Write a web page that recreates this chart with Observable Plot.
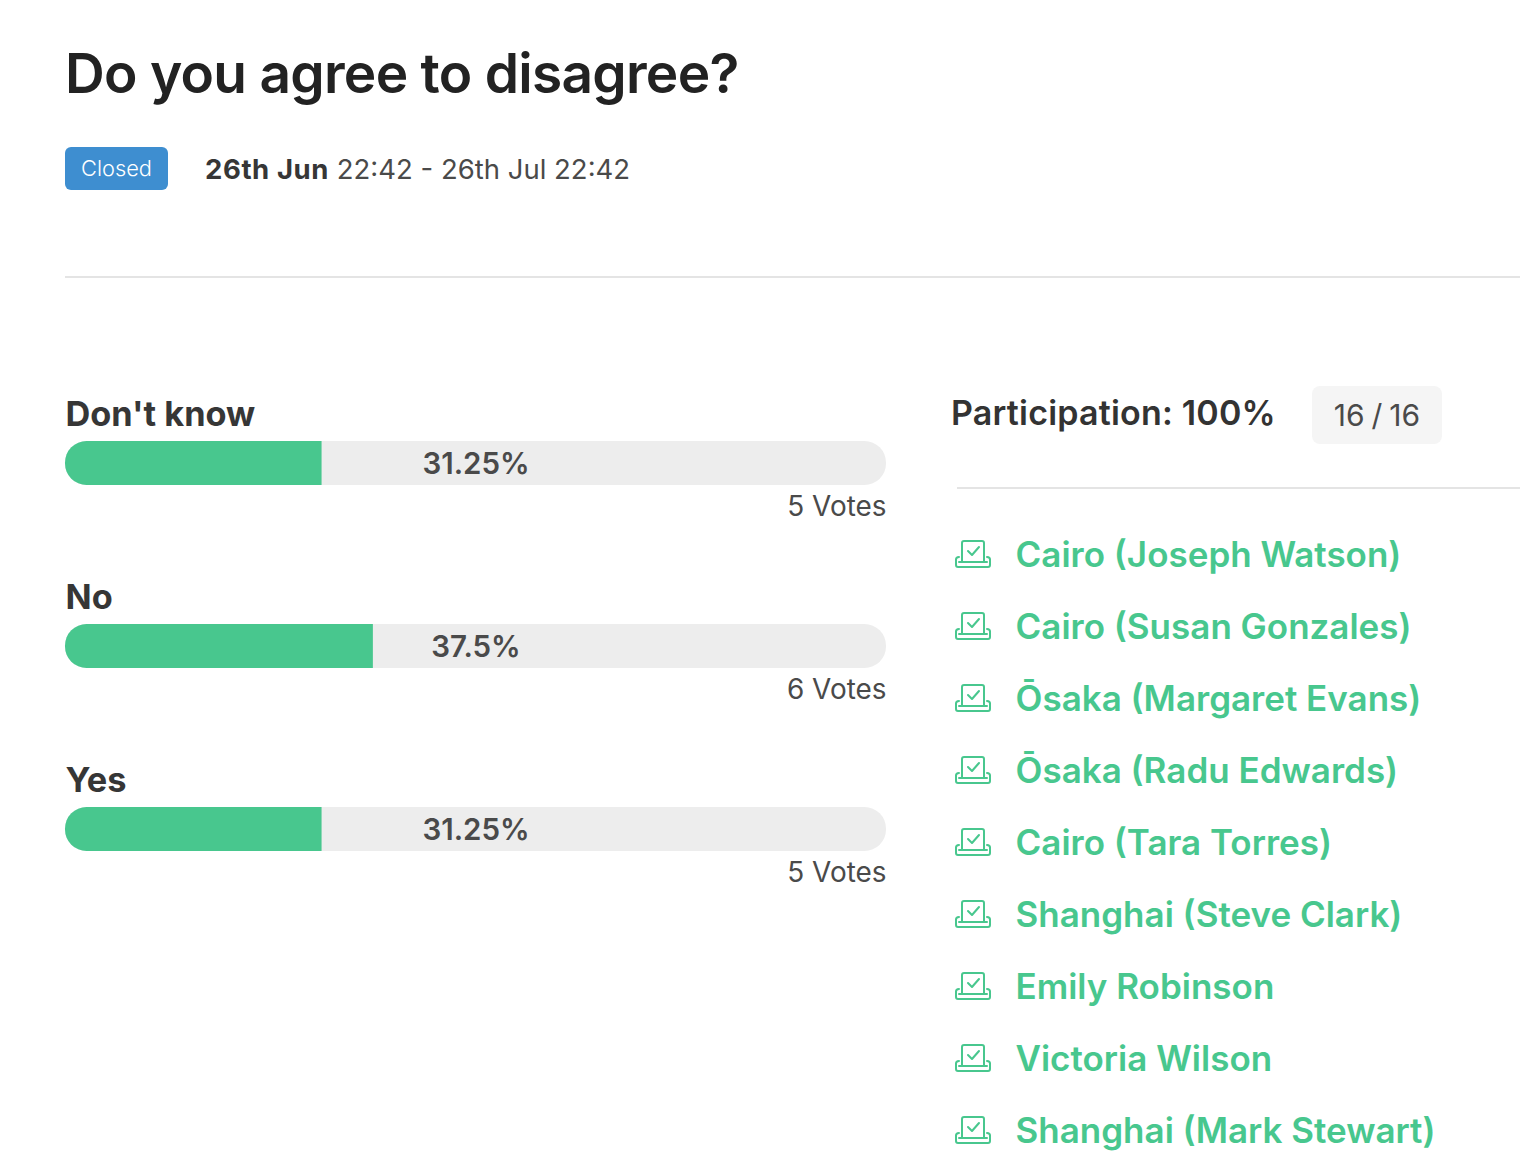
<!DOCTYPE html>
<html><head><meta charset="utf-8">
<script src="https://cdn.jsdelivr.net/npm/d3@7"></script>
<script src="https://cdn.jsdelivr.net/npm/@observablehq/plot@0.6"></script>
<style>
html,body{margin:0;padding:0;background:#fff;width:1520px;height:1172px;overflow:hidden}
body{position:relative;font-family:Inter,sans-serif;color:#363636}
.abs{position:absolute;white-space:nowrap}
#chart{position:absolute;left:0;top:0}
#title{left:65px;top:39px;font-size:55px;line-height:68px;font-weight:600;color:#222;letter-spacing:-.72px}
#badge{left:65px;top:147px;width:103px;height:43px;line-height:43px;border-radius:6px;background:#3e8ed0;color:#fff;text-align:center;font-size:21.8px;font-weight:300}
#dates{left:205px;top:150px;font-size:27.5px;line-height:38px;color:#4a4a4a}
#dates b{font-weight:700;color:#363636;letter-spacing:.6px}
.rule{height:2px;background:#e4e4e4}
#part{left:951px;top:390px;font-size:34px;line-height:46px;font-weight:600;color:#333;letter-spacing:.2px}
#tag{left:1312px;top:386px;width:130px;height:58px;line-height:58px;border-radius:8px;background:#f5f5f5;text-align:center;font-size:30px;color:#4a4a4a;word-spacing:-1.5px}
.voter{left:1015.5px;font-size:35px;line-height:46px;font-weight:600;color:#48c78e}
.icon{position:absolute;left:955px}
</style></head><body>
<div id="chart"></div>
<div class="abs" id="title">Do you agree to disagree?</div>
<div class="abs" id="badge">Closed</div>
<div class="abs" id="dates"><b>26th Jun</b> 22:42 - 26th Jul 22:42</div>
<div class="abs rule" style="left:65px;top:276px;width:1455px"></div>
<div class="abs" id="part">Participation: 100%</div>
<div class="abs" id="tag">16 / 16</div>
<div class="abs rule" style="left:957px;top:487px;width:563px"></div>
<script>
const options = ["Don't know", "No", "Yes"];
const percents = [31.25, 37.5, 31.25];
const percentLabels = ["31.25%", "37.5%", "31.25%"];
const votes = ["5 Votes", "6 Votes", "5 Votes"];
const voters = ["Cairo (Joseph Watson)", "Cairo (Susan Gonzales)", "Ōsaka (Margaret Evans)", "Ōsaka (Radu Edwards)", "Cairo (Tara Torres)", "Shanghai (Steve Clark)", "Emily Robinson", "Victoria Wilson", "Shanghai (Mark Stewart)"];

const rows = options.map((o, i) => ({option: o, pct: percents[i], label: percentLabels[i], votes: votes[i], zero: 0, mid: 50, full: 100}));
const font = "Inter, sans-serif";
const chart = Plot.plot({
  width: 1520, height: 1172, margin: 0,
  style: {background: "transparent", fontFamily: font},
  x: {type: "linear", domain: [0, 100], range: [65, 886], axis: null},
  y: {type: "band", domain: options, range: [440, 851.5], paddingInner: 0.76, paddingOuter: 0, axis: null},
  marks: [
    Plot.barX(rows, {x1: "zero", x2: "full", y: "option", fill: "#ededed", rx: 21.5}),
    Plot.barX(rows, {x1: "zero", x2: "pct", y: "option", fill: "#48c78e", rx1: 21.5}),
    Plot.text(rows, {x: "mid", y: "option", text: "label", fill: "#4a4a4a", fontSize: 29.5, fontWeight: 600, textAnchor: "middle", dy: 1}),
    Plot.text(rows, {x: "zero", y: "option", text: "option", fill: "#363636", fontSize: 34.3, fontWeight: 700, textAnchor: "start", dy: -48}),
    Plot.text(rows, {x: "full", y: "option", text: "votes", fill: "#4a4a4a", fontSize: 27.9, textAnchor: "end", dy: 44})
  ]
});
document.getElementById("chart").append(chart);

voters.forEach((name, i) => {
  const top = 531 + i * 72;
  const d = document.createElement("div");
  d.className = "abs voter";
  d.style.top = top + "px";
  d.textContent = name;
  document.body.append(d);
  const ic = document.createElement("div");
  ic.className = "icon";
  ic.style.top = (539 + i * 72) + "px";
  ic.innerHTML = '<svg width="38" height="32" viewBox="0 0 38 32" fill="none" stroke="#48c78e" stroke-width="2" stroke-linecap="round" stroke-linejoin="round"><path d="M7 23V4a2 2 0 0 1 2-2h18a2 2 0 0 1 2 2v19"/><path d="M4 18c-2 0-3 1-3 2.5V26a2 2 0 0 0 2 2h30a2 2 0 0 0 2-2v-5.500C35 19 34 18 32 18"/><path d="M4 23h28"/><path d="M13 12l4 4 7-8"/></svg>';
  document.body.append(ic);
});
</script>
</body></html>
